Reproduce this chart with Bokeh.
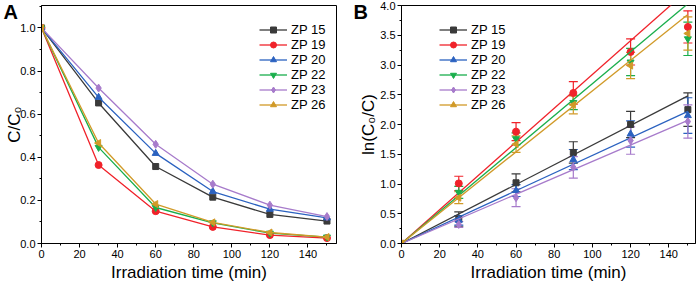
import math
from bokeh.plotting import figure
from bokeh.layouts import row
from bokeh.models import (ColumnDataSource, Whisker, TeeHead, Legend, LegendItem,
                          SingleIntervalTicker, Range1d, Title, PrintfTickFormatter)
from bokeh.embed import file_html
from bokeh.resources import INLINE

# ---------------- data ----------------
names = ["ZP 15", "ZP 19", "ZP 20", "ZP 22", "ZP 23", "ZP 26"]
times = [0, 30, 60, 90, 120, 150]

# Panel A: C/C0
a_zp15 = [1.0, 0.652, 0.357, 0.215, 0.135, 0.104]
a_zp19 = [1.0, 0.364, 0.150, 0.077, 0.039, 0.025]
a_zp20 = [1.0, 0.678, 0.418, 0.241, 0.159, 0.119]
a_zp22 = [1.0, 0.446, 0.167, 0.096, 0.048, 0.030]
a_zp23 = [1.0, 0.721, 0.460, 0.275, 0.178, 0.125]
a_zp26 = [1.0, 0.466, 0.183, 0.098, 0.051, 0.030]

# Panel B: ln(C0/C) with error bars
b_zp15 = [0.0, 0.41, 1.02, 1.53, 2.00, 2.25]
b_zp19 = [0.0, 1.01, 1.88, 2.53, 3.22, 3.64]
b_zp20 = [0.0, 0.39, 0.89, 1.41, 1.84, 2.15]
b_zp22 = [0.0, 0.86, 1.76, 2.37, 3.05, 3.44]
b_zp23 = [0.0, 0.32, 0.77, 1.28, 1.73, 2.05]
b_zp26 = [0.0, 0.77, 1.67, 2.33, 2.99, 3.53]

e_zp15 = [0.0, 0.12, 0.15, 0.18, 0.22, 0.28]
e_zp19 = [0.0, 0.12, 0.15, 0.19, 0.22, 0.27]
e_zp20 = [0.0, 0.08, 0.10, 0.17, 0.22, 0.30]
e_zp22 = [0.0, 0.10, 0.10, 0.12, 0.23, 0.28]
e_zp23 = [0.0, 0.05, 0.15, 0.18, 0.23, 0.28]
e_zp26 = [0.0, 0.10, 0.14, 0.15, 0.22, 0.28]

# linear fit lines (through origin), value at t = 150 min
fit_t = [0, 150]
fit_end = [2.48, 4.26, 2.22, 4.03, 2.07, 3.85]

a_series = [a_zp15, a_zp19, a_zp20, a_zp22, a_zp23, a_zp26]
b_series = [b_zp15, b_zp19, b_zp20, b_zp22, b_zp23, b_zp26]
b_errors = [e_zp15, e_zp19, e_zp20, e_zp22, e_zp23, e_zp26]

# ---------------- styles ----------------
colors = ["#3a3a3a", "#f0222a", "#2b62c0", "#1aae4c", "#a77bcb", "#d19a28"]
markers = ["square", "circle", "triangle", "inverted_triangle", "diamond", "triangle"]
angles = [0, 0, 0, 0, 0, math.pi / 2]
msizes = [6, 7, 7, 7, 8, 7]
FONT = "Liberation Sans"


def style(p, xlabel, ylabel, yint, label_standoff):
    p.xgrid.visible = False
    p.ygrid.visible = False
    p.outline_line_color = "black"
    p.outline_line_width = 1
    p.background_fill_color = "white"
    p.border_fill_color = "white"
    p.xaxis.ticker = SingleIntervalTicker(interval=20, num_minor_ticks=2)
    p.yaxis.ticker = SingleIntervalTicker(interval=yint, num_minor_ticks=2)
    p.yaxis.formatter = PrintfTickFormatter(format="%.1f")
    for ax in (p.xaxis[0], p.yaxis[0]):
        ax.axis_line_color = "black"
        ax.major_tick_line_color = "black"
        ax.minor_tick_line_color = "black"
        ax.major_tick_out = 4
        ax.major_tick_in = 0
        ax.minor_tick_out = 2
        ax.minor_tick_in = 0
        ax.major_label_text_font = FONT
        ax.major_label_text_font_size = "11px"
        ax.major_label_text_color = "black"
        ax.major_label_standoff = 2
        ax.axis_label_text_font = FONT
        ax.axis_label_text_font_size = "17px"
        ax.axis_label_text_font_style = "normal"
        ax.axis_label_text_color = "black"
    p.xaxis.axis_label = xlabel
    p.yaxis.axis_label = ylabel
    p.xaxis.axis_label_standoff = 2
    p.yaxis.axis_label_standoff = label_standoff


def panel_letter(p, text, off):
    p.add_layout(Title(text=text, align="left", vertical_align="bottom", offset=off,
                       standoff=-34, text_font=FONT, text_font_size="20px",
                       text_font_style="bold", text_color="black"), "above")


# ---------------- panel A ----------------
pa = figure(frame_width=295, frame_height=238, min_border_left=41, min_border_right=14,
            min_border_top=5, min_border_bottom=41, output_backend="svg",
            toolbar_location=None, x_range=Range1d(0, 155), y_range=Range1d(0, 1.104))
style(pa, "Irradiation time (min)", "C/C\u2080", 0.2, -7)

items_a = []
for i, name in enumerate(names):
    src = ColumnDataSource(dict(t=times, v=a_series[i]))
    r1 = pa.line("t", "v", source=src, line_color=colors[i], line_width=1.3)
    r2 = pa.scatter("t", "v", source=src, marker=markers[i], size=msizes[i], angle=angles[i],
                    fill_color=colors[i], line_color=colors[i])
    items_a.append(LegendItem(label=name, renderers=[r1, r2]))

leg_a = Legend(items=items_a, location=(218, 131), padding=0, margin=0, spacing=0,
               label_height=15, glyph_height=15, glyph_width=28, label_standoff=4,
               label_text_font=FONT, label_text_font_size="13px", label_text_color="black",
               border_line_color=None, background_fill_alpha=0)
pa.add_layout(leg_a, "center")
panel_letter(pa, "A", -38)

# ---------------- panel B ----------------
pb = figure(frame_width=294, frame_height=238, min_border_left=51, min_border_right=4,
            min_border_top=5, min_border_bottom=41, output_backend="svg",
            toolbar_location=None, x_range=Range1d(0, 154), y_range=Range1d(0, 4.0))
style(pb, "Irradiation time (min)", "ln(C\u2080/C)", 0.5, -1)

items_b = []
for i, name in enumerate(names):
    vals = b_series[i]
    errs = b_errors[i]
    src = ColumnDataSource(dict(t=times, v=vals,
                                lo=[v - e for v, e in zip(vals, errs)],
                                hi=[v + e for v, e in zip(vals, errs)]))
    fsrc = ColumnDataSource(dict(t=fit_t, v=[0.0, fit_end[i]]))
    r1 = pb.line("t", "v", source=fsrc, line_color=colors[i], line_width=1.3)
    w = Whisker(base="t", lower="lo", upper="hi", source=src, line_color=colors[i],
                line_width=1.2,
                upper_head=TeeHead(size=9, line_color=colors[i], line_width=1.2),
                lower_head=TeeHead(size=9, line_color=colors[i], line_width=1.2))
    pb.add_layout(w)
    r2 = pb.scatter("t", "v", source=src, marker=markers[i], size=msizes[i], angle=angles[i],
                    fill_color=colors[i], line_color=colors[i])
    items_b.append(LegendItem(label=name, renderers=[r1, r2]))

leg_b = Legend(items=items_b, location=(38, 131), padding=0, margin=0, spacing=0,
               label_height=15, glyph_height=15, glyph_width=28, label_standoff=4,
               label_text_font=FONT, label_text_font_size="13px", label_text_color="black",
               border_line_color=None, background_fill_alpha=0)
pb.add_layout(leg_b, "center")
panel_letter(pb, "B", -48)

layout = row(pa, pb)
open("out.html", "w").write(file_html(layout, INLINE))
